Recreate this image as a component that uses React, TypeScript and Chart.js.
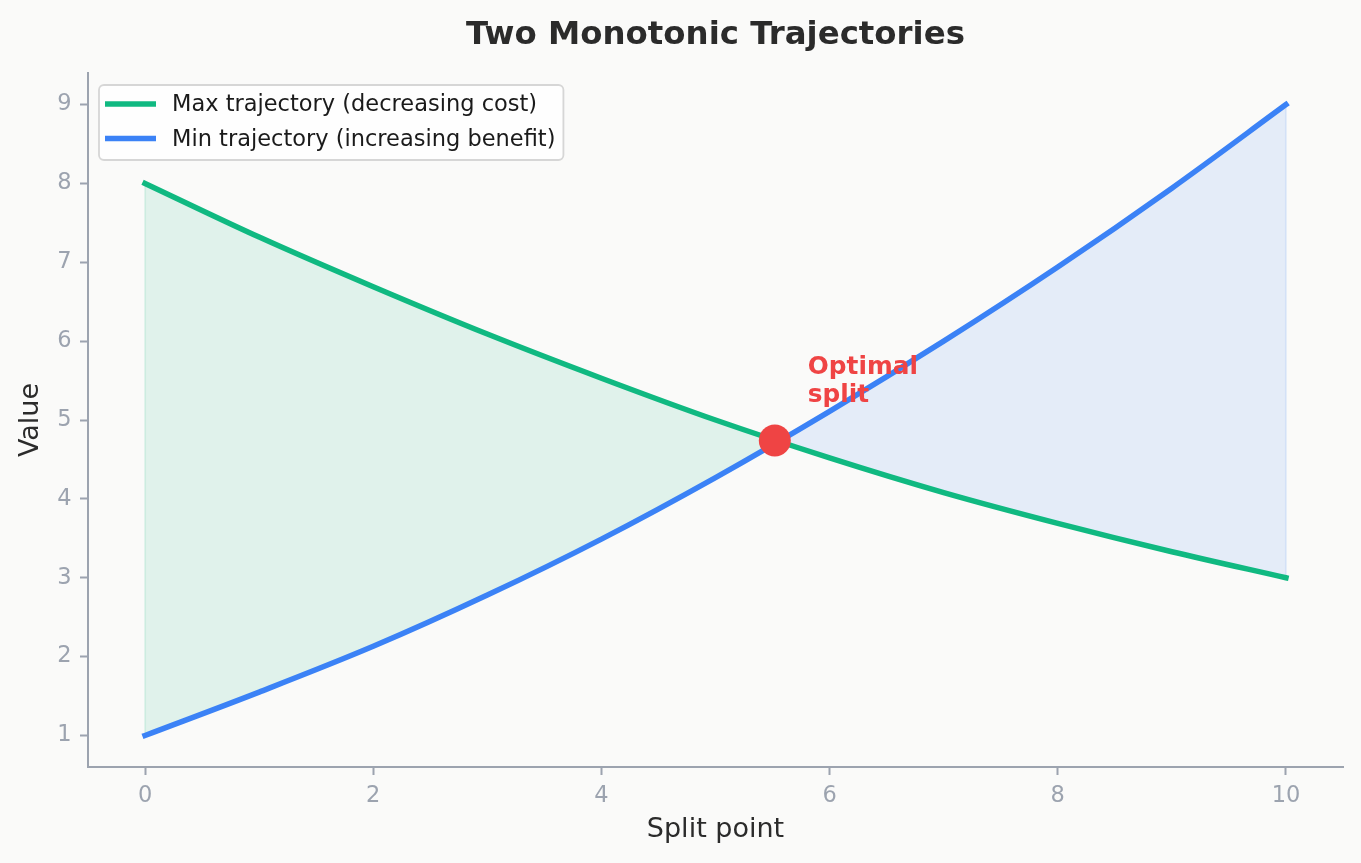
import React, { useEffect, useRef } from "react";
import { Chart, registerables } from "chart.js";

Chart.register(...registerables);

// ---- data ----
const SPLIT_POINTS = [0, 1, 2, 3, 4, 5, 6, 7, 8, 9, 10];
const MAX_TRAJECTORY = [8.0, 7.32, 6.69, 6.09, 5.53, 5.0, 4.52, 4.08, 3.69, 3.33, 3.0];
const MIN_TRAJECTORY = [1.0, 1.55, 2.13, 2.78, 3.49, 4.27, 5.11, 6.0, 6.94, 7.94, 9.0];
const OPTIMAL_SPLIT_X = [5.52];
const OPTIMAL_SPLIT_Y = [4.74];
const X_TICKS = [0, 2, 4, 6, 8, 10];
const Y_TICKS = [1, 2, 3, 4, 5, 6, 7, 8, 9];
const X_RANGE = [-0.5, 10.5];
const Y_RANGE = [0.6, 9.4];
const SERIES_LABELS = ["Max trajectory (decreasing cost)", "Min trajectory (increasing benefit)"];
const TITLE = "Two Monotonic Trajectories";
const X_TITLE = "Split point";
const Y_TITLE = "Value";
const ANNOTATION_LINES = ["Optimal", "split"];

// ---- style ----
const FONT = "'DejaVu Sans', 'Liberation Sans', sans-serif";
const BG = "#fafaf9";
const GREEN = "#10b981";
const BLUE = "#3b82f6";
const RED = "#ef4444";
const GREEN_FILL = "rgba(16,185,129,0.11)";
const BLUE_FILL = "rgba(59,130,246,0.11)";
const AXIS = "#9ca3af";
const TEXT_DARK = "#2b2b2b";
const LINE_W = 5.5;

const toPoints = (xs: number[], ys: number[]) => xs.map((x, i) => ({ x, y: ys[i] }));

const last = SPLIT_POINTS.length - 1;

const bgPlugin = {
  id: "bgFill",
  beforeDraw(chart: any) {
    const { ctx, width, height } = chart;
    ctx.save();
    ctx.fillStyle = BG;
    ctx.fillRect(0, 0, width, height);
    ctx.restore();
  },
};

const overlayPlugin = {
  id: "overlay",
  afterDraw(chart: any) {
    const { ctx, chartArea, scales } = chart;
    ctx.save();

    // title
    ctx.font = `bold 32.4px ${FONT}`;
    ctx.fillStyle = TEXT_DARK;
    ctx.textAlign = "center";
    ctx.textBaseline = "alphabetic";
    ctx.fillText(TITLE, (chartArea.left + chartArea.right) / 2, chartArea.top - 29);

    // legend
    ctx.font = `22.5px ${FONT}`;
    const maxW = Math.max(...SERIES_LABELS.map((t) => ctx.measureText(t).width));
    const boxL = chartArea.left + 11;
    const boxT = chartArea.top + 12;
    const textX = boxL + 73;
    const boxW = textX - boxL + maxW + 8;
    const boxH = 75;
    ctx.beginPath();
    (ctx as any).roundRect(boxL, boxT, boxW, boxH, 5);
    ctx.fillStyle = "rgba(255,255,255,0.8)";
    ctx.fill();
    ctx.lineWidth = 1.8;
    ctx.strokeStyle = "#d6d6d6";
    ctx.stroke();
    const colors = [GREEN, BLUE];
    const rows = [boxT + 19, boxT + 53.5];
    SERIES_LABELS.forEach((label, i) => {
      ctx.beginPath();
      ctx.moveTo(boxL + 6, rows[i]);
      ctx.lineTo(boxL + 57, rows[i]);
      ctx.strokeStyle = colors[i];
      ctx.lineWidth = LINE_W;
      ctx.lineCap = "butt";
      ctx.stroke();
      ctx.fillStyle = "#1a1a1a";
      ctx.textAlign = "left";
      ctx.textBaseline = "middle";
      ctx.fillText(label, textX, rows[i] + 1.5);
    });

    // annotation near optimal split
    const px = scales.x.getPixelForValue(OPTIMAL_SPLIT_X[0]);
    const py = scales.y.getPixelForValue(OPTIMAL_SPLIT_Y[0]);
    ctx.font = `bold 24.75px ${FONT}`;
    ctx.fillStyle = RED;
    ctx.textAlign = "left";
    ctx.textBaseline = "alphabetic";
    ctx.fillText(ANNOTATION_LINES[0], px + 33, py - 66.5);
    ctx.fillText(ANNOTATION_LINES[1], px + 33, py - 39);

    ctx.restore();
  },
};

export default function App() {
  const ref = useRef<HTMLCanvasElement>(null);

  useEffect(() => {
    document.body.style.margin = "0";
    document.body.style.background = BG;
    const canvas = ref.current;
    if (!canvas) return;

    const chart = new Chart(canvas, {
      type: "line",
      data: {
        datasets: [
          {
            label: SERIES_LABELS[0],
            data: toPoints(SPLIT_POINTS, MAX_TRAJECTORY),
            borderColor: GREEN,
            borderWidth: LINE_W,
            borderCapStyle: "square",
            pointRadius: 0,
            cubicInterpolationMode: "monotone",
            fill: { target: 1, above: GREEN_FILL, below: BLUE_FILL },
            order: 2,
          },
          {
            label: SERIES_LABELS[1],
            data: toPoints(SPLIT_POINTS, MIN_TRAJECTORY),
            borderColor: BLUE,
            borderWidth: LINE_W,
            borderCapStyle: "square",
            pointRadius: 0,
            cubicInterpolationMode: "monotone",
            fill: false,
            order: 1,
          },
          {
            label: "Optimal split",
            data: toPoints(OPTIMAL_SPLIT_X, OPTIMAL_SPLIT_Y),
            showLine: false,
            pointRadius: 16,
            pointBackgroundColor: RED,
            pointBorderWidth: 0,
            borderColor: RED,
            backgroundColor: RED,
            fill: false,
            order: 0,
          },
          {
            label: "left edge",
            data: [
              { x: SPLIT_POINTS[0], y: MAX_TRAJECTORY[0] },
              { x: SPLIT_POINTS[0], y: MIN_TRAJECTORY[0] },
            ],
            borderColor: GREEN_FILL,
            borderWidth: 2,
            pointRadius: 0,
            fill: false,
            order: 3,
          },
          {
            label: "right edge",
            data: [
              { x: SPLIT_POINTS[last], y: MAX_TRAJECTORY[last] },
              { x: SPLIT_POINTS[last], y: MIN_TRAJECTORY[last] },
            ],
            borderColor: BLUE_FILL,
            borderWidth: 2,
            pointRadius: 0,
            fill: false,
            order: 3,
          },
        ],
      } as any,
      options: {
        responsive: false,
        animation: false,
        events: [],
        layout: { padding: { top: 73, right: 18, left: 0, bottom: 0 } },
        plugins: {
          legend: { display: false },
          title: { display: false },
          tooltip: { enabled: false },
        },
        scales: {
          x: {
            type: "linear",
            min: X_RANGE[0],
            max: X_RANGE[1],
            afterBuildTicks: (s: any) => {
              s.ticks = X_TICKS.map((v) => ({ value: v }));
            },
            afterFit: (s: any) => {
              s.height = 96;
            },
            grid: {
              display: true,
              drawOnChartArea: false,
              drawTicks: true,
              tickLength: 8,
              tickWidth: 2,
              tickColor: AXIS,
            },
            border: { display: true, color: AXIS, width: 2 },
            ticks: {
              color: AXIS,
              font: { family: FONT, size: 22.5 },
              padding: 7.5,
              maxRotation: 0,
              autoSkip: false,
            },
            title: {
              display: true,
              text: X_TITLE,
              color: TEXT_DARK,
              font: { family: FONT, size: 27 },
              padding: { top: 0, bottom: 17 },
            },
          },
          y: {
            type: "linear",
            min: Y_RANGE[0],
            max: Y_RANGE[1],
            afterBuildTicks: (s: any) => {
              s.ticks = Y_TICKS.map((v) => ({ value: v }));
            },
            afterFit: (s: any) => {
              s.width = 88;
            },
            grid: {
              display: true,
              drawOnChartArea: false,
              drawTicks: true,
              tickLength: 8,
              tickWidth: 2,
              tickColor: AXIS,
            },
            border: { display: true, color: AXIS, width: 2 },
            ticks: {
              color: AXIS,
              font: { family: FONT, size: 22.5 },
              padding: 8.5,
              autoSkip: false,
            },
            title: {
              display: true,
              text: Y_TITLE,
              color: TEXT_DARK,
              font: { family: FONT, size: 27 },
              padding: { top: 14.5, bottom: 0 },
            },
          },
        },
      } as any,
      plugins: [bgPlugin, overlayPlugin],
    });

    return () => chart.destroy();
  }, []);

  return (
    <div style={{ width: 1361, height: 863 }}>
      <canvas ref={ref} width={1361} height={863} style={{ display: "block", width: 1361, height: 863 }} />
    </div>
  );
}
